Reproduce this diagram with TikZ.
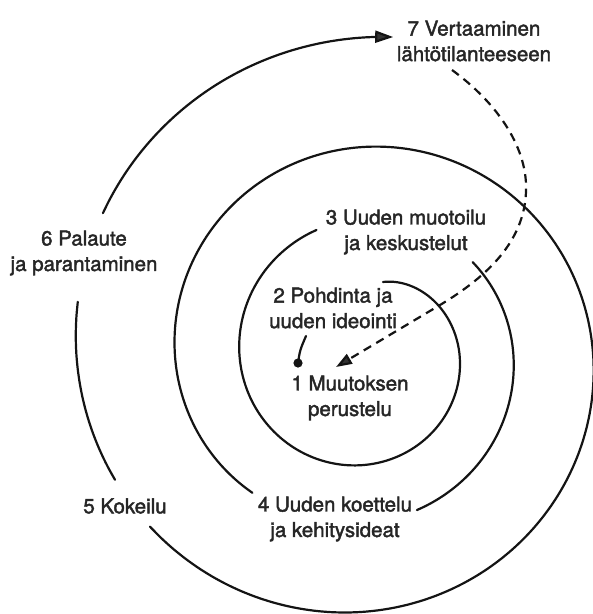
\documentclass[tikz,border=0pt]{standalone}
\usepackage{fontspec}
\setmainfont{TeX Gyre Heros}[FakeBold=2]
\usetikzlibrary{arrows.meta}
\begin{document}
\begin{tikzpicture}[x=1pt,y=-1pt,
  declare function={rr(\t)=99.2*exp(0.0011676*\t)-15*exp(-0.03*(\t+74));},
  spiral/.style={line width=2.2pt, draw=black!92, line cap=round},
  dashy/.style={line width=2.2pt, draw=black!92, dash pattern=on 8.5pt off 6pt},
  lbl/.style={font=\fontsize{20.5}{25.5}\selectfont, text=black!85, align=center, inner sep=0pt},
  bigtip/.style={-{Triangle[length=18pt,width=12pt,fill=black!80]}},
  smalltip/.style={-{Triangle[length=16pt,width=11pt,fill=black!80]}}
]
\useasboundingbox (0,0) rectangle (593,614);

% labels
\node[lbl] (n1) at (350,398) {1 Muutoksen\\perustelu};
\node[lbl] (n2) at (333,308) {2 Pohdinta ja\\uuden ideointi};
\node[lbl] (n3) at (406,232) {3 Uuden muotoilu\\ja keskustelut};
\node[lbl] (n4) at (335,519) {4 Uuden koettelu\\ja kehitysideat};
\node[lbl] (n5) at (125,506) {5 Kokeilu};
\node[lbl] (n6) at (84,253) {6 Palaute\\ja parantaminen};
\node[lbl] (n7) at (474,41) {7 Vertaaminen\\lähtötilanteeseen};

% start dot and tail
\coordinate (dot) at (298,363);
\coordinate (tailend) at (306,336);
\fill[black!92] (dot) circle (4.6pt);
\draw[spiral] (dot) .. controls (300,350) .. (tailend);

% spiral segments (one spiral, interrupted at the labels)
\draw[spiral] plot[smooth, domain=-74:250, samples=90]
  ({362+rr(\x)*cos(\x)},{355+rr(\x)*sin(\x)});
\draw[spiral] plot[smooth, domain=320:430.5, samples=40]
  ({362+rr(\x)*cos(\x)},{355+rr(\x)*sin(\x)});
\draw[spiral] plot[smooth, domain=488.5:861, samples=110]
  ({362+rr(\x)*cos(\x)},{355+rr(\x)*sin(\x)});
\draw[spiral] plot[smooth, domain=873.2:910.6, samples=15]
  ({362+rr(\x)*cos(\x)},{355+rr(\x)*sin(\x)});
\draw[spiral, bigtip] plot[smooth, domain=928.7:995.6, samples=30]
  ({362+rr(\x)*cos(\x)},{355+rr(\x)*sin(\x)});

% dashed return arrow from 7 back to 1
\coordinate (d0) at (452,70);
\coordinate (d1) at (526,192);
\coordinate (d2) at (440,305);
\coordinate (d3) at (336,367);
\draw[dashy, smalltip] (d0) .. controls (500,105) and (528,150) .. (d1)
  .. controls (524,240) and (490,275) .. (d2) -- (d3);
\end{tikzpicture}
\end{document}
